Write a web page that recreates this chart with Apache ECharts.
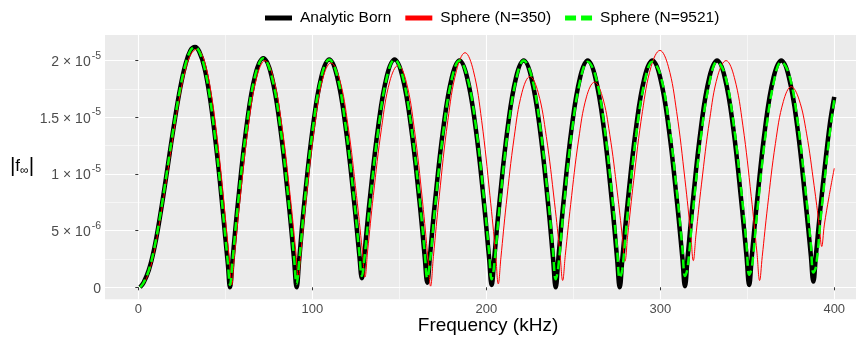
<!DOCTYPE html>
<html>
<head>
<meta charset="utf-8">
<title>|f∞| vs frequency</title>
<script src="https://cdn.jsdelivr.net/npm/echarts@6/dist/echarts.min.js"></script>
<style>
  html, body { margin: 0; padding: 0; background: #fff; }
  #chart { width: 856px; height: 343px; }
</style>
</head>
<body>
<div id="chart"></div>
<script>
// amplitudes are in units of 1e-5
const bornFreq = [
  1, 3, 6, 9, 12, 15, 18, 21, 24, 27, 30, 32.6, 35, 38, 41, 44, 47, 50, 51.5, 52.7,
  54.2, 57.3, 62.3, 67.2, 71.85, 76.5, 81.4, 86.4, 89.5, 91.0,
  92.5, 95.5, 100.4, 105.25, 109.75, 114.25, 119.1, 124.0, 127.0, 128.5,
  130.0, 133.0, 137.9, 142.8, 147.3, 151.8, 156.7, 161.6, 164.6, 166.1,
  167.6, 170.5, 175.35, 180.2, 184.6, 189.0, 193.85, 198.7, 201.6, 203.1,
  204.6, 207.5, 212.3, 217.1, 221.5, 225.9, 230.7, 235.5, 238.4, 239.9,
  241.4, 244.3, 249.1, 253.9, 258.3, 262.7, 267.5, 272.3, 275.2, 276.7,
  278.2, 281.2, 286.1, 290.95, 295.45, 299.95, 304.8, 309.7, 312.7, 314.2,
  315.7, 318.6, 323.4, 328.2, 332.65, 337.1, 341.9, 346.7, 349.6, 351.1,
  352.6, 355.5, 360.3, 365.1, 369.55, 374.0, 378.8, 383.6, 386.5, 388.0,
  389.5, 392.4, 397.2, 400
];
const bornAmp = [
  0, 0.04, 0.15, 0.33, 0.58, 0.87, 1.18, 1.48, 1.75, 1.96, 2.09, 2.12, 2.08, 1.94, 1.69, 1.34, 0.92, 0.44, 0.2, 0,
  0.25, 0.75, 1.43, 1.87, 2.02, 1.87, 1.43, 0.75, 0.25, 0,
  0.25, 0.76, 1.42, 1.86, 2.01, 1.86, 1.42, 0.76, 0.29, 0.08,
  0.3, 0.77, 1.42, 1.86, 2.01, 1.86, 1.42, 0.76, 0.27, 0.04,
  0.27, 0.75, 1.41, 1.85, 2.0, 1.85, 1.41, 0.74, 0.26, 0.02,
  0.26, 0.74, 1.41, 1.85, 2.0, 1.85, 1.41, 0.74, 0.25, 0,
  0.25, 0.74, 1.41, 1.85, 2.0, 1.85, 1.41, 0.74, 0.25, 0,
  0.25, 0.74, 1.41, 1.85, 2.0, 1.85, 1.41, 0.74, 0.26, 0.01,
  0.26, 0.74, 1.41, 1.85, 2.0, 1.85, 1.41, 0.74, 0.27, 0.02,
  0.27, 0.74, 1.41, 1.85, 2.0, 1.85, 1.41, 0.74, 0.29, 0.05,
  0.29, 0.75, 1.41, 1.68
];
// N=9521 sphere, read at the same frequencies as the analytic curve
const fineAmp = [
  0, 0.04, 0.15, 0.33, 0.58, 0.87, 1.18, 1.48, 1.75, 1.96, 2.09, 2.12, 2.08, 1.94, 1.69, 1.34, 0.92, 0.45, 0.21, 0.02,
  0.24, 0.74, 1.42, 1.87, 2.02, 1.87, 1.44, 0.76, 0.27, 0.03,
  0.23, 0.74, 1.41, 1.86, 2.01, 1.87, 1.43, 0.78, 0.31, 0.1,
  0.26, 0.73, 1.39, 1.85, 2.01, 1.87, 1.44, 0.79, 0.31, 0.08,
  0.22, 0.7, 1.38, 1.84, 2.0, 1.86, 1.44, 0.78, 0.31, 0.07,
  0.2, 0.69, 1.37, 1.83, 2.0, 1.87, 1.45, 0.79, 0.31, 0.07,
  0.18, 0.67, 1.36, 1.82, 1.99, 1.87, 1.46, 0.81, 0.33, 0.08,
  0.16, 0.65, 1.34, 1.81, 1.99, 1.88, 1.47, 0.82, 0.35, 0.1,
  0.17, 0.64, 1.33, 1.8, 1.99, 1.88, 1.47, 0.83, 0.37, 0.11,
  0.17, 0.63, 1.32, 1.8, 1.99, 1.88, 1.48, 0.84, 0.39, 0.13,
  0.18, 0.64, 1.33, 1.65
];
const coarseFreq = [
  1, 3, 6, 9, 12, 15, 18, 21, 24, 27, 30, 33.6, 36, 39, 42, 45, 48, 51, 52.5, 53.7,
  55.2, 58.5, 63.25, 68.0, 72.8, 77.6, 82.4, 87.2, 90.5, 92.0,
  93.5, 96.7, 101.35, 106.0, 110.7, 115.6, 120.5, 125.4, 128.7, 130.3,
  131.8, 135.1, 139.85, 144.6, 149.4, 154.05, 158.7, 163.35, 166.5, 168.0,
  169.6, 172.95, 177.9, 182.85, 187.8, 192.6, 197.35, 202.1, 205.4, 206.9,
  208.4, 211.45, 216.0, 220.55, 225.1, 229.8, 234.5, 239.2, 242.4, 243.9,
  245.4, 248.5, 253.05, 257.6, 262.2, 266.6, 270.95, 275.3, 278.3, 279.7,
  281.3, 284.7, 289.75, 294.8, 299.8, 304.6, 309.4, 314.2, 317.5, 319.0,
  320.5, 323.7, 328.4, 333.1, 337.8, 342.6, 347.45, 352.3, 355.6, 357.1,
  358.6, 361.65, 366.2, 370.75, 375.3, 379.7, 384.05, 388.4, 391.4, 392.8,
  394.3, 397, 400
];
const coarseAmp = [
  0, 0.03, 0.13, 0.3, 0.55, 0.83, 1.13, 1.43, 1.7, 1.91, 2.05, 2.1, 2.07, 1.94, 1.7, 1.36, 0.94, 0.46, 0.22, 0.02,
  0.27, 0.78, 1.42, 1.85, 2.0, 1.85, 1.44, 0.82, 0.32, 0.08,
  0.32, 0.81, 1.42, 1.84, 1.98, 1.84, 1.43, 0.81, 0.33, 0.09,
  0.32, 0.81, 1.41, 1.82, 1.96, 1.81, 1.39, 0.76, 0.25, 0.01,
  0.27, 0.8, 1.47, 1.91, 2.07, 1.91, 1.47, 0.81, 0.29, 0.03,
  0.26, 0.73, 1.32, 1.72, 1.86, 1.72, 1.33, 0.75, 0.29, 0.06,
  0.28, 0.73, 1.3, 1.68, 1.81, 1.69, 1.35, 0.84, 0.43, 0.23,
  0.46, 0.94, 1.55, 1.95, 2.09, 1.95, 1.55, 0.95, 0.47, 0.235,
  0.46, 0.91, 1.48, 1.87, 2.0, 1.85, 1.43, 0.8, 0.3, 0.06,
  0.27, 0.71, 1.27, 1.64, 1.77, 1.66, 1.36, 0.9, 0.54, 0.36,
  0.55, 0.8, 1.05
];

const xTicks = [0, 100, 200, 300, 400];
const xMinor = [50, 150, 250, 350];
const yTicks = [0, 0.5, 1, 1.5, 2];
const yMinor = [0.25, 0.75, 1.25, 1.75];
const yTickMant = ['0', '5', '1', '1.5', '2'];
const yTickExp = ['', '-6', '-5', '-5', '-5'];

const FONT = '"Liberation Sans", Arial, Helvetica, sans-serif';
const X_MIN = -19.14, X_MAX = 412.5;
const Y_MIN = -0.106, Y_MAX = 2.226;

const pairs = (xs, ys) => xs.map((x, i) => [x, ys[i]]);

function yLabel(v) {
  const i = yTicks.findIndex(t => Math.abs(t - v) < 1e-9);
  if (i < 0) return '';
  if (!yTickExp[i]) return '{m|' + yTickMant[i] + '}';
  return '{m|' + yTickMant[i] + ' × 10}{e|' + yTickExp[i] + '}';
}

const chart = echarts.init(document.getElementById('chart'));

chart.setOption({
  animation: false,
  backgroundColor: '#ffffff',
  textStyle: { fontFamily: FONT },
  grid: {
    left: 105, right: 0, top: 35, bottom: 43.7,
    show: true, backgroundColor: '#EBEBEB', borderWidth: 0,
    containLabel: false, outerBoundsMode: 'none'
  },
  legend: {
    top: 5, left: 260,
    itemWidth: 27, itemHeight: 5, itemGap: 14,
    itemStyle: { borderWidth: 0 },
    selectedMode: false,
    textStyle: { fontSize: 15.5, color: '#000', fontFamily: FONT, padding: [0, 0, 0, 3] },
    data: [
      { name: 'Analytic Born', icon: 'rect' },
      { name: 'Sphere (N=350)', icon: 'rect' },
      { name: 'Sphere (N=9521)', icon: 'path://M0,0H11V5H0Z M16,0H27V5H16Z' }
    ]
  },
  xAxis: [
    {
      type: 'value', min: X_MIN, max: X_MAX,
      axisLine: { show: false },
      axisTick: { customValues: xTicks, length: 3, lineStyle: { color: '#333333', width: 1 } },
      axisLabel: { customValues: xTicks, color: '#4D4D4D', fontSize: 13, margin: 4, fontFamily: FONT },
      splitLine: { show: true, lineStyle: { color: '#ffffff', width: 1.1 } }
    },
    {
      type: 'value', min: X_MIN, max: X_MAX,
      axisLine: { show: false },
      axisTick: { show: false, customValues: xMinor },
      axisLabel: { show: false, customValues: xMinor },
      splitLine: { show: true, lineStyle: { color: '#ffffff', width: 0.55 } }
    }
  ],
  yAxis: [
    {
      type: 'value', min: Y_MIN, max: Y_MAX,
      axisLine: { show: false },
      axisTick: { customValues: yTicks, length: 3, lineStyle: { color: '#333333', width: 1 } },
      axisLabel: {
        customValues: yTicks, margin: 4, formatter: yLabel,
        rich: {
          m: { fontSize: 14, color: '#4D4D4D', fontFamily: FONT, padding: [3, 0, 0, 0] },
          e: { fontSize: 10.5, color: '#4D4D4D', fontFamily: FONT, padding: [0, 0, 10, 1] }
        }
      },
      splitLine: { show: true, lineStyle: { color: '#ffffff', width: 1.1 } }
    },
    {
      type: 'value', min: Y_MIN, max: Y_MAX,
      axisLine: { show: false },
      axisTick: { show: false, customValues: yMinor },
      axisLabel: { show: false, customValues: yMinor },
      splitLine: { show: true, lineStyle: { color: '#ffffff', width: 0.55 } }
    }
  ],
  graphic: [
    {
      type: 'text', x: 488, y: 326, silent: true,
      style: { text: 'Frequency (kHz)', fontSize: 19, fill: '#000', fontFamily: FONT, align: 'center', verticalAlign: 'middle' }
    },
    {
      type: 'text', x: 22, y: 166, silent: true,
      style: {
        text: '{b||}{f|f}{s|∞}{b||}', align: 'center', verticalAlign: 'middle',
        rich: {
          b: { fontSize: 21, fill: '#000', fontFamily: FONT },
          f: { fontSize: 17, fill: '#000', fontFamily: FONT },
          s: { fontSize: 12, fill: '#000', fontFamily: FONT, padding: [9, 0, 0, 0] }
        }
      }
    }
  ],
  series: [
    {
      name: 'Analytic Born', type: 'line', data: pairs(bornFreq, bornAmp),
      symbol: 'none', smooth: 0.4, silent: true, z: 2,
      itemStyle: { color: '#000000' },
      lineStyle: { color: '#000000', width: 4.5 }
    },
    {
      name: 'Sphere (N=350)', type: 'line', data: pairs(coarseFreq, coarseAmp),
      symbol: 'none', smooth: 0.4, silent: true, z: 3,
      itemStyle: { color: '#FF0000' },
      lineStyle: { color: '#FF0000', width: 1 }
    },
    {
      name: 'Sphere (N=9521)', type: 'line', data: pairs(bornFreq, fineAmp),
      symbol: 'none', smooth: 0.4, silent: true, z: 4,
      itemStyle: { color: '#00FF00' },
      lineStyle: { color: '#00FF00', width: 2.5, type: [9, 5] }
    }
  ]
});
</script>
</body>
</html>
